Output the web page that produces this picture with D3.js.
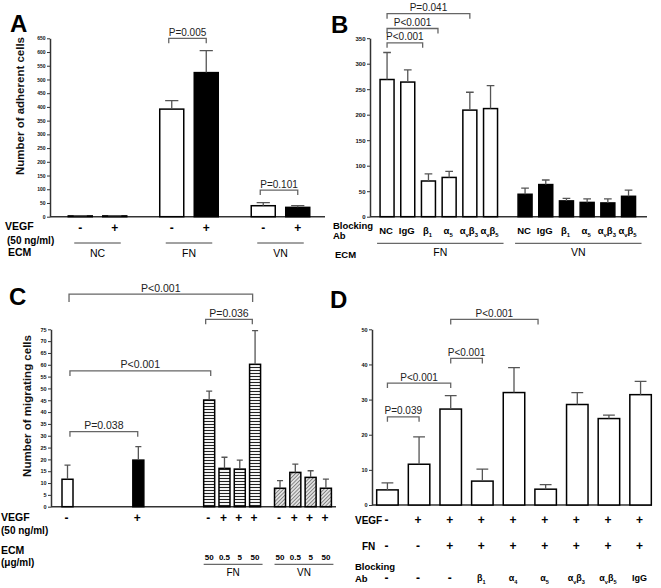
<!DOCTYPE html>
<html><head><meta charset="utf-8">
<script src="https://cdn.jsdelivr.net/npm/d3@7"></script>
<style>body{margin:0;background:#fff}svg{display:block}</style>
</head><body>
<svg id="chart" width="661" height="588"></svg>
<script>
// ---------- DATA ----------
// Panel A: adhesion
const aGroups = ["NC", "FN", "VN"];
const aVegf = ["-", "+"];
const aMeans = [[3, 3], [392, 525], [40, 34]];
const aErrs = [[1, 1], [31, 80], [11, 6]];
const aTicks = d3.range(0, 651, 50);
const aBrackets = [
  {group: "FN", from: 0, to: 1, level: 650, label: "P=0.005"},
  {group: "VN", from: 0, to: 1, level: 97, label: "P=0.101"}
];

// Panel B: blocking antibodies
const bGroups = ["FN", "VN"];
const bAbs = ["NC", "IgG", "β_1", "α_5", "α_vβ_3", "α_vβ_5"];
const bMeansFN = [269, 264, 70, 77, 209, 212];
const bErrsFN = [53, 24, 14, 12, 35, 45];
const bMeansVN = [44, 63, 31, 28, 27, 40];
const bErrsVN = [12, 9, 5, 7, 8, 12];
const bTicks = d3.range(0, 351, 50);
const bBrackets = [
  {from: 0, to: 1.72, level: 341, label: "P<0.001"},
  {from: 0, to: 2.46, level: 369, label: "P<0.001"},
  {from: 0, to: 4.0, level: 398, label: "P=0.041"}
];

// Panel C: migration
const cCtrlVegf = ["-", "+"];
const cCtrlMeans = [11.6, 19.7];
const cCtrlErrs = [6.0, 5.7];
const cConc = ["50", "0.5", "5", "50"];
const cFnVegf = ["-", "+", "+", "+"];
const cFnMeans = [45.1, 16.2, 15.9, 60.2];
const cFnErrs = [3.8, 4.7, 3.8, 14.2];
const cVnVegf = ["-", "+", "+", "+"];
const cVnMeans = [7.8, 14.5, 12.4, 7.8];
const cVnErrs = [3.2, 3.5, 2.8, 3.9];
const cTicks = d3.range(0, 76, 5);
const cBrackets = [
  {from: 0.1, to: 12.1, level: 89.9, label: "P<0.001", tick: 8},
  {from: 9.03, to: 12.08, level: 79.2, label: "P=0.036", tick: 5},
  {from: 0.16, to: 9.36, level: 57.4, label: "P<0.001", tick: 5},
  {from: 0.16, to: 4.59, level: 31.7, label: "P=0.038", tick: 5}
];

// Panel D: migration with blocking
const dVegf = ["-", "+", "+", "+", "+", "+", "+", "+", "+"];
const dFn = ["-", "-", "+", "+", "+", "+", "+", "+", "+"];
const dAb = ["-", "-", "-", "β_1", "α_4", "α_5", "α_vβ_3", "α_vβ_5", "IgG"];
const dMeans = [4.3, 11.6, 27.3, 6.8, 32.0, 4.5, 28.6, 24.6, 31.4];
const dErrs = [2.0, 7.8, 3.8, 3.4, 7.1, 1.3, 3.4, 1.0, 3.8];
const dTicks = [0, 10, 20, 30, 40, 50];
const dBrackets = [
  {from: 0, to: 1, level: 25.1, label: "P=0.039"},
  {from: 0, to: 2, level: 34.7, label: "P<0.001"},
  {from: 2, to: 3, level: 41.7, label: "P<0.001"},
  {from: 2, to: 4.76, level: 52.8, label: "P<0.001"}
];

// ---------- HELPERS ----------
const F = '"Liberation Sans", Arial, Helvetica, sans-serif';
const svg = d3.select("#chart");
const defs = svg.append("defs");
const hp = defs.append("pattern").attr("id", "hstripe").attr("patternUnits", "userSpaceOnUse")
  .attr("width", 6).attr("height", 3);
hp.append("rect").attr("width", 6).attr("height", 3).attr("fill", "#fff");
hp.append("line").attr("x1", 0).attr("x2", 6).attr("y1", 1.5).attr("y2", 1.5).attr("stroke", "#222").attr("stroke-width", 1.1);
const dp = defs.append("pattern").attr("id", "dstripe").attr("patternUnits", "userSpaceOnUse")
  .attr("width", 2.6).attr("height", 2.6).attr("patternTransform", "rotate(45)");
dp.append("rect").attr("width", 2.6).attr("height", 2.6).attr("fill", "#e0e0e0");
dp.append("line").attr("x1", 0).attr("x2", 0).attr("y1", 0).attr("y2", 2.6).attr("stroke", "#333").attr("stroke-width", 1);

function txt(x, y, s, size, opts = {}) {
  return svg.append("text").attr("x", x).attr("y", y + size * 0.35)
    .attr("font-family", F).attr("font-size", size)
    .attr("font-weight", opts.weight || "normal")
    .attr("text-anchor", opts.anchor || "start")
    .attr("fill", opts.fill || "#000").text(s);
}
function rich(x, y, str, size, opts = {}) {
  const t = svg.append("text").attr("x", x).attr("y", y + size * 0.35)
    .attr("font-family", F).attr("font-size", size)
    .attr("font-weight", opts.weight || "bold")
    .attr("text-anchor", opts.anchor || "middle").attr("fill", "#000");
  const segs = [];
  let i = 0;
  while (i < str.length) {
    if (str[i] === "_") { segs.push({t: str[i + 1], sub: true}); i += 2; }
    else { let j = i; while (j < str.length && str[j] !== "_") j++; segs.push({t: str.slice(i, j), sub: false}); i = j; }
  }
  const off = size * 0.28;
  let prevSub = false;
  segs.forEach(s => {
    const ts = t.append("tspan").text(s.t);
    if (s.sub) { ts.attr("font-size", size * 0.62).attr("dy", prevSub ? 0 : off); }
    else if (prevSub) { ts.attr("dy", -off); }
    prevSub = s.sub;
  });
  return t;
}
function yAxis(x, y, ticks, fs) {
  const ax = d3.axisLeft(y).tickValues(ticks).tickSize(3).tickSizeOuter(0).tickPadding(1.5);
  const g = svg.append("g").attr("transform", `translate(${x},0)`).call(ax);
  g.select(".domain").attr("stroke", "#333").attr("stroke-width", 1.5);
  g.selectAll(".tick line").attr("stroke", "#333").attr("stroke-width", 1);
  g.selectAll(".tick text").attr("font-family", F).attr("font-size", fs).attr("font-weight", "bold").attr("fill", "#111");
}
function hline(x1, x2, y, w = 1.5, c = "#333") {
  svg.append("line").attr("x1", x1).attr("x2", x2).attr("y1", y).attr("y2", y).attr("stroke", c).attr("stroke-width", w);
}
function bar(x, w, yTop, yBase, fill, yErr) {
  svg.append("rect").attr("x", x).attr("y", yTop).attr("width", w).attr("height", Math.max(0.5, yBase - yTop))
    .attr("fill", fill).attr("stroke", "#000").attr("stroke-width", 1.5);
  const cx = x + w / 2, cw = w * 0.55;
  svg.append("path").attr("d", `M${cx},${yTop}V${yErr}M${cx - cw / 2},${yErr}H${cx + cw / 2}`)
    .attr("fill", "none").attr("stroke", "#555").attr("stroke-width", 1.3);
}
function bracket(x1, x2, y, tick, label, fs = 10) {
  svg.append("path").attr("d", `M${x1},${y + tick}V${y}H${x2}V${y + tick}`)
    .attr("fill", "none").attr("stroke", "#666").attr("stroke-width", 1.3);
  svg.append("text").attr("x", (x1 + x2) / 2).attr("y", y - 2.5).attr("text-anchor", "middle")
    .attr("font-family", F).attr("font-size", fs).attr("fill", "#222").text(label);
}
function panelLetter(x, y, s) {
  svg.append("text").attr("x", x).attr("y", y).attr("font-family", F).attr("font-size", 24)
    .attr("font-weight", "bold").text(s);
}
function yTitle(x, y, s) {
  svg.append("text").attr("transform", `translate(${x},${y}) rotate(-90)`).attr("text-anchor", "middle")
    .attr("font-family", F).attr("font-size", 11.5).attr("font-weight", "bold").attr("fill", "#111").text(s);
}

// ---------- PANEL A ----------
panelLetter(10, 32, "A");
const yA = d3.scaleLinear().domain([0, 650]).range([216.7, 38.3]);
const xA0 = d3.scaleBand().domain(aGroups).range([51.75, 326.25]);
const xA1 = d3.scaleBand().domain(aVegf).range([0, xA0.step()]).paddingInner(0.304).paddingOuter(0.478);
yAxis(50, yA, aTicks, 5);
hline(50, 325, yA(0));
aGroups.forEach((g, gi) => {
  aVegf.forEach((v, vi) => {
    const x = xA0(g) + xA1(v), w = xA1.bandwidth();
    bar(x, w, yA(aMeans[gi][vi]), yA(0), vi ? "#000" : "#fff", yA(aMeans[gi][vi] + aErrs[gi][vi]));
    txt(x + w / 2, 228, v, 12, {weight: "bold", anchor: "middle"});
  });
  const l = xA0(g) + xA1(aVegf[0]) + 6, r = xA0(g) + xA1(aVegf[1]) + xA1.bandwidth() - 6;
  hline(l, r, 243, 1, "#444");
  txt((l + r) / 2, 253, g, 10.5, {anchor: "middle"});
});
aBrackets.forEach(b => {
  const c = i => xA0(b.group) + xA1(aVegf[0]) + xA1.bandwidth() / 2 + i * xA1.step();
  bracket(c(b.from) - 3, c(b.to), yA(b.level), 5, b.label);
});
yTitle(24, 106, "Number of adherent cells");
txt(5, 226, "VEGF", 10.5, {weight: "bold"});
txt(7, 240, "(50 ng/ml)", 10, {weight: "bold"});
txt(8, 252, "ECM", 10.5, {weight: "bold"});

// ---------- PANEL B ----------
panelLetter(331, 33, "B");
const yB = d3.scaleLinear().domain([0, 350]).range([216.7, 38.2]);
const xB0 = d3.scaleBand().domain(bGroups).range([369.8, 645.8]);
const xB1 = d3.scaleBand().domain(bAbs).range([0, xB0.step()]).paddingInner(0.324).paddingOuter(0.496);
yAxis(370, yB, bTicks, 6);
hline(370, 647, yB(0));
bGroups.forEach((g, gi) => {
  const means = gi ? bMeansVN : bMeansFN, errs = gi ? bErrsVN : bErrsFN;
  bAbs.forEach((a, ai) => {
    const x = xB0(g) + xB1(a), w = xB1.bandwidth();
    bar(x, w, yB(means[ai]), yB(0), gi ? "#000" : "#fff", yB(means[ai] + errs[ai]));
    rich(x + w / 2 - 1, 230.7, a, 9.5);
  });
  const l = xB0(g) + xB1(bAbs[0]) - 3, r = xB0(g) + xB1(bAbs[5]) + xB1.bandwidth() + 6;
  hline(l, r, 243.3, 1, "#444");
  txt((l + r) / 2, 252, g, 10.5, {anchor: "middle"});
});
bBrackets.forEach(b => {
  const c = i => xB0("FN") + xB1(bAbs[0]) + xB1.bandwidth() / 2 + i * xB1.step();
  bracket(c(b.from), c(b.to), yB(b.level), 5, b.label);
});
txt(333, 225.5, "Blocking", 9.5, {weight: "bold"});
txt(333, 236, "Ab", 9.5, {weight: "bold"});
txt(335, 255, "ECM", 9.5, {weight: "bold"});

// ---------- PANEL C ----------
panelLetter(9, 305, "C");
const yC = d3.scaleLinear().domain([0, 75]).range([506.7, 329.3]);
const xC = d3.scaleLinear().domain([0, 1]).range([67.5, 82.8]);
const cW = 11;
yAxis(51, yC, cTicks, 5.5);
hline(51, 336, yC(0));
const cBars = [];
let slot = 0;
const gaps = [3.63, 3.63, 0.63];
cCtrlVegf.forEach((v, i) => {
  cBars.push({slot, mean: cCtrlMeans[i], err: cCtrlErrs[i], fill: i ? "#000" : "#fff", vegf: v});
  slot += 1 + gaps[i];
});
cFnMeans.forEach((m, i) => {
  cBars.push({slot, mean: m, err: cFnErrs[i], fill: "url(#hstripe)", vegf: cFnVegf[i], conc: cConc[i], grp: "FN"});
  slot += (i < 3) ? 1 : 1 + gaps[2];
});
cVnMeans.forEach((m, i) => {
  cBars.push({slot, mean: m, err: cVnErrs[i], fill: "url(#dstripe)", vegf: cVnVegf[i], conc: cConc[i], grp: "VN"});
  slot += 1;
});
cBars.forEach(b => {
  const cx = xC(b.slot);
  bar(cx - cW / 2, cW, yC(b.mean), yC(0), b.fill, yC(b.mean + b.err));
  txt(cx - 1, 517.5, b.vegf, 12, {weight: "bold", anchor: "middle"});
  if (b.conc) txt(cx, 557, b.conc, 8, {weight: "bold", anchor: "middle"});
});
["FN", "VN"].forEach(g => {
  const bs = cBars.filter(b => b.grp === g);
  const l = xC(bs[0].slot) - cW / 2, r = xC(bs[bs.length - 1].slot) + cW / 2 + 2;
  hline(l, r, 564.3, 1, "#444");
  txt((l + r) / 2, 572, g, 10, {anchor: "middle"});
});
cBrackets.forEach(b => bracket(xC(b.from), xC(b.to), yC(b.level), b.tick, b.label, 10.5));
yTitle(31, 406, "Number of migrating cells");
txt(1, 517.5, "VEGF", 10.5, {weight: "bold"});
txt(1, 530.5, "(50 ng/ml)", 10, {weight: "bold"});
txt(1, 550, "ECM", 10.5, {weight: "bold"});
txt(1, 562.5, "(μg/ml)", 10, {weight: "bold"});

// ---------- PANEL D ----------
panelLetter(330, 308, "D");
const yD = d3.scaleLinear().domain([0, 50]).range([505, 329.3]);
const xD = d3.scaleBand().domain(d3.range(dMeans.length)).range([372, 656]).paddingInner(0.321).paddingOuter(0.148);
yAxis(372, yD, dTicks, 5.5);
hline(372, 652, yD(0));
dMeans.forEach((m, i) => {
  const x = xD(i), w = xD.bandwidth();
  bar(x, w, yD(m), yD(0), "#fff", yD(m + dErrs[i]));
  txt(x + w / 2 - 1, 520, dVegf[i], 12, {weight: "bold", anchor: "middle"});
  txt(x + w / 2 - 1, 546, dFn[i], 12, {weight: "bold", anchor: "middle"});
  if (dAb[i] === "-") txt(x + w / 2 - 1, 578, "-", 12, {weight: "bold", anchor: "middle"});
  else rich(x + w / 2 - 1, 578, dAb[i], 9);
});
dBrackets.forEach(b => {
  const c = t => xD(0) + xD.bandwidth() / 2 + t * xD.step();
  bracket(c(b.from), c(b.to), yD(b.level), 5, b.label);
});
txt(355, 520, "VEGF", 10, {weight: "bold"});
txt(362, 546, "FN", 10, {weight: "bold"});
txt(355, 567, "Blocking", 9.5, {weight: "bold"});
txt(355, 579, "Ab", 9.5, {weight: "bold"});
</script>
</body></html>
